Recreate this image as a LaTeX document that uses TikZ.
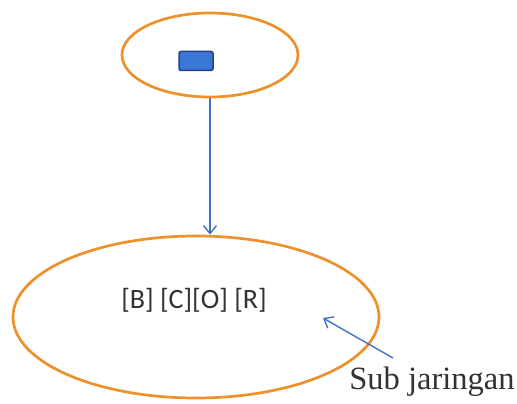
\documentclass[tikz,border=0pt]{standalone}
\usepackage{fontspec}
\setmainfont{Liberation Serif}
\newfontfamily\addrfont{Carlito}
\usetikzlibrary{shapes.geometric,arrows.meta}
\definecolor{ringorange}{RGB}{237,145,45}
\definecolor{linkblue}{RGB}{68,114,196}
\definecolor{hostblue}{RGB}{58,120,215}
\definecolor{hostedge}{RGB}{35,65,130}
\definecolor{textgray}{RGB}{50,50,50}

\begin{document}
\begin{tikzpicture}[x=1pt,y=-1pt,
    ring/.style={ellipse, draw=ringorange, line width=2.7pt, inner sep=0pt},
    link/.style={draw=linkblue, line width=1.4pt, -{Straight Barb[length=8pt,width=13pt]}}]

      \useasboundingbox (0,0) rectangle (517,404);

      % the two networks
      \node[ring, minimum width=176pt, minimum height=84pt] (net) at (210,55) {};
      \node[ring, minimum width=366pt, minimum height=162pt] (subnet) at (196,317) {};

      % host inside the upper network
      \node[draw=hostedge, fill=hostblue, line width=1.5pt, rounded corners=2pt,
            minimum width=34pt, minimum height=19pt, inner sep=0pt] (host) at (196,61) {};

      % texts
      \node[text=textgray, font=\addrfont\fontsize{28}{30}\selectfont] (addr) at (194,300) {[B] [C][O] [R]};
      \node[text=textgray, font=\fontsize{32.5}{34}\selectfont] (label) at (432,382) {Sub jaringan};

      % connectors
      \coordinate (tail) at (393,358);
      \coordinate (head) at (323,318);
      \draw[link] (net.south) -- (net.south |- subnet.north);
      \draw[link] (tail) -- (head);

    \end{tikzpicture}
\end{document}
